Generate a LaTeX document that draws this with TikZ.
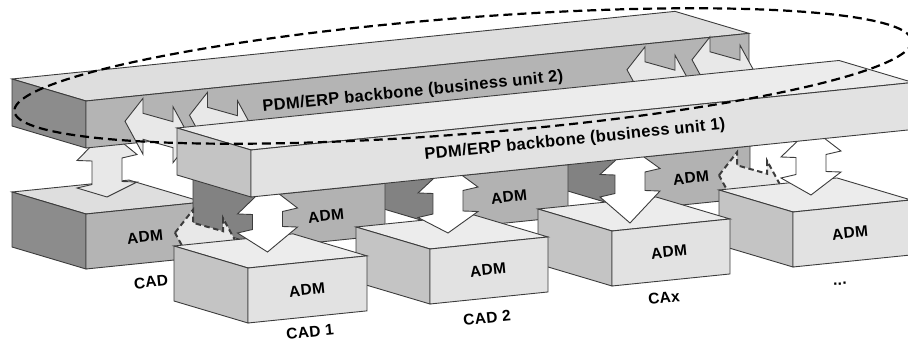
\documentclass[tikz,border=0pt]{standalone}
\usepackage{fontspec}
\setmainfont{Liberation Sans}
\newfontfamily\admfont{Liberation Sans}[LetterSpace=2]
\newfontfamily\bbfont{Liberation Sans}[LetterSpace=2]

\definecolor{edgegray}{HTML}{3C3C3C}
% business unit 2 (darker palette)
\definecolor{topB}{HTML}{DEDEDE}
\definecolor{frontB}{HTML}{B4B4B4}
\definecolor{leftB}{HTML}{8C8C8C}
% business unit 1 (lighter palette)
\definecolor{topL}{HTML}{ECECEC}
\definecolor{frontL}{HTML}{E2E2E2}
\definecolor{leftL}{HTML}{C4C4C4}
% adapters hanging under backbone 1
\definecolor{frontH}{HTML}{B2B2B2}
\definecolor{leftH}{HTML}{828282}
\definecolor{arrowlight}{HTML}{E8E8E8}

% slope of the front edges
\def\sk{0.102}

% 3D block: front-top-left x, y, width, height, front, left, top colour
\newcommand{\prism}[7]{%
  \filldraw[edge, fill=#7] (#1,#2) -- ({#1+#3},{#2-\sk*#3}) -- ({#1+#3-74},{#2-\sk*#3-22}) -- ({#1-74},{#2-22}) -- cycle;
  \filldraw[edge, fill=#6] (#1,#2) -- ({#1-74},{#2-22}) -- ({#1-74},{#2-22+#4}) -- (#1,{#2+#4}) -- cycle;
  \filldraw[edge, fill=#5] (#1,#2) -- ({#1+#3},{#2-\sk*#3}) -- ({#1+#3},{#2-\sk*#3+#4}) -- (#1,{#2+#4}) -- cycle;
}

% vertical double arrow: centre x, upper barb y, lower barb y, lower tip y, upper tip y, fill
\newcommand{\varrow}[6]{%
  \filldraw[edge, fill=#6] (#1,#5) -- ({#1+30},{#2-3}) -- ({#1+15},{#2+0.5}) -- ({#1+15},{#3-3.5})
    -- ({#1+30},{#3-3}) -- (#1,#4) -- ({#1-30},{#3+3}) -- ({#1-15},{#3-0.5})
    -- ({#1-15},{#2+3.5}) -- ({#1-30},{#2+3}) -- cycle;
}

% double arrow running in the depth direction: centre x, centre y, shaft half width, style
\newcommand{\harrow}[4]{%
  \filldraw[#4] ({#1-33},{#2-9.24}) -- ({#1-15},{#2-32.2}) -- ({#1-15},{#2-#3-4.2})
    -- ({#1+15},{#2-#3+4.2}) -- ({#1+15},{#2-23.8}) -- ({#1+33},{#2+9.24})
    -- ({#1+15},{#2+32.2}) -- ({#1+15},{#2+#3+4.2}) -- ({#1-15},{#2+#3-4.2})
    -- ({#1-15},{#2+23.8}) -- cycle;
}

\tikzset{
  edge/.style={draw=edgegray, line width=0.9pt},
  harr/.style={edge, fill=arrowlight},
  dlink/.style={draw=edgegray, line width=2pt, dash pattern=on 5.5pt off 3.5pt, fill=arrowlight},
  lbl/.style={font=\admfont\bfseries\fontsize{15.5}{15.5}\selectfont, rotate=5.8, inner sep=0pt},
  bbl/.style={font=\bbfont\bfseries\fontsize{16.5}{16.5}\selectfont, rotate=5.8, inner sep=0pt},
  group/.style={draw=black, line width=2.2pt, dash pattern=on 9pt off 5pt}
}

\begin{document}
\begin{tikzpicture}[x=1pt, y=-1pt]
\useasboundingbox (0,0) rectangle (908,345);
\clip (0,0) rectangle (908,345);

% CAD system of business unit 2
\prism{86}{214}{117}{55}{frontB}{leftB}{topB}
\node[lbl] (admA) at (145,237) {ADM};
\node[lbl] (cadA) at (151,282) {CAD};
\varrow{107}{157.5}{185}{197}{130}{arrowlight}

% backbone of business unit 2
\prism{86}{101}{663}{47}{frontB}{leftB}{topB}
\node[bbl] (bb2) at (413,92) {PDM/ERP backbone (business unit 2)};

% links between the two backbones
\harrow{158}{130.5}{13}{harr}
\harrow{222.5}{124.5}{13}{harr}
\harrow{660}{79}{13}{harr}
\harrow{725}{69}{13}{harr}

% adapters under backbone 1, back to front
\prism{632}{158.1}{118}{52}{frontH}{leftH}{frontH}
\node[lbl] (adm3) at (691,178) {ADM};
\prism{450}{176.7}{118}{52}{frontH}{leftH}{frontH}
\node[lbl] (adm2) at (509,197) {ADM};
\prism{267}{195.4}{118}{52}{frontH}{leftH}{frontH}
\node[lbl] (adm1) at (326,216) {ADM};

% dashed cross links between adapters
\harrow{208}{242}{15}{dlink}
\harrow{752}{184.5}{15}{dlink}

% CAD systems of business unit 1, back to front
\prism{793}{212}{118}{55}{frontL}{leftL}{topL}
\node[lbl] (admD) at (850,233) {ADM};
\node[lbl] (dots) at (840,284) {...};
\prism{612}{231}{118}{55}{frontL}{leftL}{topL}
\node[lbl] (admX) at (669,252) {ADM};
\node[lbl] (cax) at (664,298) {CAx};
\prism{430}{249}{118}{55}{frontL}{leftL}{topL}
\node[lbl] (adm2b) at (488,270) {ADM};
\node[lbl] (cad2) at (487,318) {CAD 2};
\prism{248}{268}{119}{55}{frontL}{leftL}{topL}
\node[lbl] (adm1b) at (307,290) {ADM};
\node[lbl] (cad1) at (310,332) {CAD 1};

% connections from backbone 1 to the systems
\varrow{267.5}{211}{230}{252}{185}{white}
\varrow{448}{190}{214.5}{233}{165}{white}
\varrow{630}{171.5}{194}{223}{147}{white}
\varrow{811}{154}{175}{195}{128}{white}

% backbone of business unit 1
\prism{251}{150}{662}{47}{frontL}{leftL}{topL}
\node[bbl] (bb1) at (575,140) {PDM/ERP backbone (business unit 1)};

% grouping of the two backbones
\draw[group] plot[domain=0:360, samples=200, variable=\t]
  ({463 + 450*cos(\t)*0.99692 + 58*sin(\t)*0.07846},
   {76 - 450*cos(\t)*0.07846 + 58*sin(\t)*0.99692});
\end{tikzpicture}
\end{document}
